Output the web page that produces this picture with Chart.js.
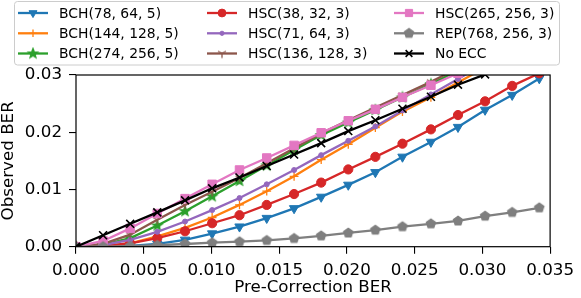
<!DOCTYPE html>
<html>
<head>
<meta charset="utf-8">
<script src="https://cdn.jsdelivr.net/npm/chart.js@4.4.0/dist/chart.umd.min.js"></script>
<style>
  html, body { margin: 0; padding: 0; background: #fff; }
  #wrap { width: 581px; height: 298px; position: relative; }
</style>
</head>
<body>
<div id="wrap"><canvas id="berChart"></canvas></div>
<script>
// pre-correction BER (x) for every measured point
const preBer = [0, 0.002, 0.004, 0.006, 0.00805, 0.01005, 0.01207, 0.01408, 0.0161, 0.0181,
    0.0201, 0.0221, 0.0241, 0.0262, 0.0282, 0.0302, 0.0322, 0.0342];

const bch78 = [0, 0.00002, 0.00015, 0.0005, 0.0012, 0.0023, 0.0035, 0.005, 0.0067, 0.0087,
    0.0108, 0.013, 0.0157, 0.0183, 0.0209, 0.0239, 0.0265, 0.0294];
const bch144 = [0, 0.0001, 0.0006, 0.0018, 0.0033, 0.0051, 0.0073, 0.0097, 0.0123, 0.0152,
    0.0179, 0.0208, 0.0236, 0.0261, 0.0287, 0.0313];
const bch274 = [0, 0.0003, 0.0015, 0.0037, 0.0062, 0.0088, 0.0115, 0.0142, 0.0169, 0.0195,
    0.0217, 0.0239, 0.0261, 0.0284, 0.0308];
const hsc38 = [0, 0.0001, 0.0006, 0.0015, 0.0027, 0.0041, 0.0055, 0.0073, 0.0092, 0.0112,
    0.0135, 0.0157, 0.018, 0.0205, 0.023, 0.0254, 0.0281, 0.0303];
const hsc71 = [0, 0.0003, 0.0012, 0.0026, 0.0044, 0.0064, 0.0085, 0.0109, 0.0134, 0.016,
    0.0185, 0.021, 0.0238, 0.0266, 0.0293, 0.032];
const hsc136 = [0, 0.0005, 0.0021, 0.0047, 0.0073, 0.0096, 0.012, 0.0146, 0.0172, 0.0198,
    0.0221, 0.0243, 0.0265, 0.0288, 0.0312];
const hsc265 = [0, 0.001, 0.0032, 0.0058, 0.0084, 0.0109, 0.0134, 0.0155, 0.0177, 0.0199,
    0.022, 0.024, 0.0261, 0.0282, 0.0303];
const rep768 = [0, 0.00002, 0.0001, 0.00025, 0.00047, 0.0007, 0.00087, 0.0011, 0.00145, 0.0019,
    0.0024, 0.0029, 0.0035, 0.004, 0.0045, 0.00535, 0.006, 0.0068];
const noEcc = [0, 0.002, 0.004, 0.006, 0.0081, 0.0102, 0.0121, 0.0141, 0.0161, 0.0181,
    0.0202, 0.0221, 0.0241, 0.0262, 0.0283, 0.0301, 0.0322, 0.0342];

const seriesNames = ['BCH(78, 64, 5)', 'BCH(144, 128, 5)', 'BCH(274, 256, 5)',
    'HSC(38, 32, 3)', 'HSC(71, 64, 3)', 'HSC(136, 128, 3)',
    'HSC(265, 256, 3)', 'REP(768, 256, 3)', 'No ECC'];
const seriesValues = [bch78, bch144, bch274, hsc38, hsc71, hsc136, hsc265, rep768, noEcc];
const seriesColors = ['#1f77b4', '#ff7f0e', '#2ca02c', '#d62728', '#9467bd', '#8c564b',
    '#e377c2', '#7f7f7f', '#000000'];

const xTicks = [0, 0.005, 0.01, 0.015, 0.02, 0.025, 0.03, 0.035];
const yTicks = [0, 0.01, 0.02, 0.03];

// little canvases for the markers Chart.js doesn't have
function markerCanvas(kind, color) {
    const c = document.createElement('canvas');
    c.width = 14; c.height = 14;
    const g = c.getContext('2d');
    g.translate(7, 7);
    g.fillStyle = color;
    g.strokeStyle = color;
    g.lineWidth = 1.3;
    if (kind === 'star') {
        g.beginPath();
        for (let i = 0; i < 10; i++) {
            const r = i % 2 === 0 ? 5 : 2.1;
            const a = -Math.PI / 2 + i * Math.PI / 5;
            g.lineTo(r * Math.cos(a), r * Math.sin(a));
        }
        g.closePath();
        g.fill();
        g.stroke();
    } else if (kind === 'pentagon') {
        g.beginPath();
        for (let i = 0; i < 5; i++) {
            const a = -Math.PI / 2 + i * 2 * Math.PI / 5;
            g.lineTo(4.8 * Math.cos(a), 4.8 * Math.sin(a));
        }
        g.closePath();
        g.fill();
        g.stroke();
    } else if (kind === 'tridown') {
        g.beginPath();
        [Math.PI / 2, -Math.PI / 6, Math.PI + Math.PI / 6].forEach(a => {
            g.moveTo(0, 0);
            g.lineTo(4.6 * Math.cos(a), 4.6 * Math.sin(a));
        });
        g.stroke();
    }
    return c;
}

const markerStyles = [
    { pointStyle: 'triangle', rotation: 180, radius: 5.4, width: 1 },
    { pointStyle: 'cross', rotation: 0, radius: 4.4, width: 1.3 },
    { pointStyle: markerCanvas('star', seriesColors[2]), rotation: 0, radius: 4, width: 1 },
    { pointStyle: 'circle', rotation: 0, radius: 4.6, width: 1 },
    { pointStyle: 'circle', rotation: 0, radius: 2.5, width: 1 },
    { pointStyle: markerCanvas('tridown', seriesColors[5]), rotation: 0, radius: 4, width: 1 },
    { pointStyle: 'rect', rotation: 0, radius: 6, width: 1 },
    { pointStyle: markerCanvas('pentagon', seriesColors[7]), rotation: 0, radius: 4, width: 1 },
    { pointStyle: 'crossRot', rotation: 0, radius: 5.6, width: 1.6 }
];

const datasets = seriesNames.map((name, i) => ({
    label: name,
    data: seriesValues[i].map((v, k) => ({ x: preBer[k], y: v })),
    borderColor: seriesColors[i],
    backgroundColor: seriesColors[i],
    borderWidth: 2.3,
    pointStyle: markerStyles[i].pointStyle,
    pointRotation: markerStyles[i].rotation,
    pointRadius: markerStyles[i].radius,
    pointBorderWidth: markerStyles[i].width,
    pointBorderColor: seriesColors[i],
    pointBackgroundColor: seriesColors[i],
    pointHoverRadius: markerStyles[i].radius,
    tension: 0,
    order: seriesNames.length - i
}));

const fontFamily = '"DejaVu Sans", sans-serif';

// matplotlib-style legend: 3 columns, filled column by column
const boxLegend = {
    id: 'boxLegend',
    afterDraw(chart) {
        const ctx = chart.ctx;
        ctx.save();
        ctx.beginPath();
        ctx.roundRect(14.5, 1.5, 545, 63.5, 3);
        ctx.fillStyle = 'rgba(255,255,255,0.8)';
        ctx.fill();
        ctx.strokeStyle = '#cccccc';
        ctx.lineWidth = 1;
        ctx.stroke();

        const colX = [18, 207, 394];
        const rowY = [13, 33.3, 53.5];
        ctx.font = '13.9px ' + fontFamily;
        ctx.textBaseline = 'middle';
        seriesNames.forEach((name, i) => {
            const col = Math.floor(i / 3), row = i % 3;
            const x = colX[col], y = rowY[row];
            ctx.strokeStyle = seriesColors[i];
            ctx.lineWidth = 2.3;
            ctx.beginPath();
            ctx.moveTo(x, y);
            ctx.lineTo(x + 30, y);
            ctx.stroke();
            ctx.fillStyle = seriesColors[i];
            ctx.lineWidth = markerStyles[i].width;
            Chart.helpers.drawPoint(ctx, {
                pointStyle: markerStyles[i].pointStyle,
                rotation: markerStyles[i].rotation,
                radius: markerStyles[i].radius * 0.85,
                borderWidth: markerStyles[i].width
            }, x + 15, y);
            ctx.fillStyle = '#000';
            ctx.fillText(name, x + 41, y + 1);
        });
        ctx.restore();
    },
    afterDatasetsDraw(chart) {
        const a = chart.chartArea;
        const ctx = chart.ctx;
        ctx.save();
        ctx.strokeStyle = '#000';
        ctx.lineWidth = 1.2;
        ctx.strokeRect(a.left, a.top, a.right - a.left, a.bottom - a.top);
        ctx.restore();
    }
};

const ctx = document.getElementById('berChart').getContext('2d');
new Chart(ctx, {
    type: 'line',
    data: { datasets: datasets },
    options: {
        responsive: true,
        maintainAspectRatio: false,
        animation: false,
        events: [],
        layout: { padding: { top: 75, right: 24.5, left: 0, bottom: 0 } },
        scales: {
            x: {
                type: 'linear',
                min: 0,
                max: 0.035,
                afterFit(scale) { scale.height = 51.3; },
                afterBuildTicks(scale) { scale.ticks = xTicks.map(v => ({ value: v })); },
                grid: { display: true, drawOnChartArea: false, drawTicks: true, tickLength: 7, color: '#000', lineWidth: 1.1 },
                border: { display: false },
                ticks: {
                    color: '#000',
                    padding: 7,
                    maxRotation: 0,
                    autoSkip: false,
                    font: { family: fontFamily, size: 16.7 },
                    callback: v => v.toFixed(3)
                },
                title: {
                    display: true,
                    text: 'Pre-Correction BER',
                    color: '#000',
                    font: { family: fontFamily, size: 16.7, lineHeight: 1 },
                    padding: { top: 0, bottom: 2 }
                }
            },
            y: {
                type: 'linear',
                min: 0,
                max: 0.03,
                afterFit(scale) { scale.width = 76; },
                afterBuildTicks(scale) { scale.ticks = yTicks.map(v => ({ value: v })); },
                grid: { display: true, drawOnChartArea: false, drawTicks: true, tickLength: 7, color: '#000', lineWidth: 1.1 },
                border: { display: false },
                ticks: {
                    color: '#000',
                    padding: 7,
                    font: { family: fontFamily, size: 16.7 },
                    callback: v => v.toFixed(2)
                },
                title: {
                    display: true,
                    text: 'Observed BER',
                    color: '#000',
                    font: { family: fontFamily, size: 16.7, lineHeight: 1 },
                    padding: { top: 0, bottom: 0 }
                }
            }
        },
        plugins: {
            legend: { display: false },
            tooltip: { enabled: false }
        }
    },
    plugins: [boxLegend]
});
</script>
</body>
</html>
